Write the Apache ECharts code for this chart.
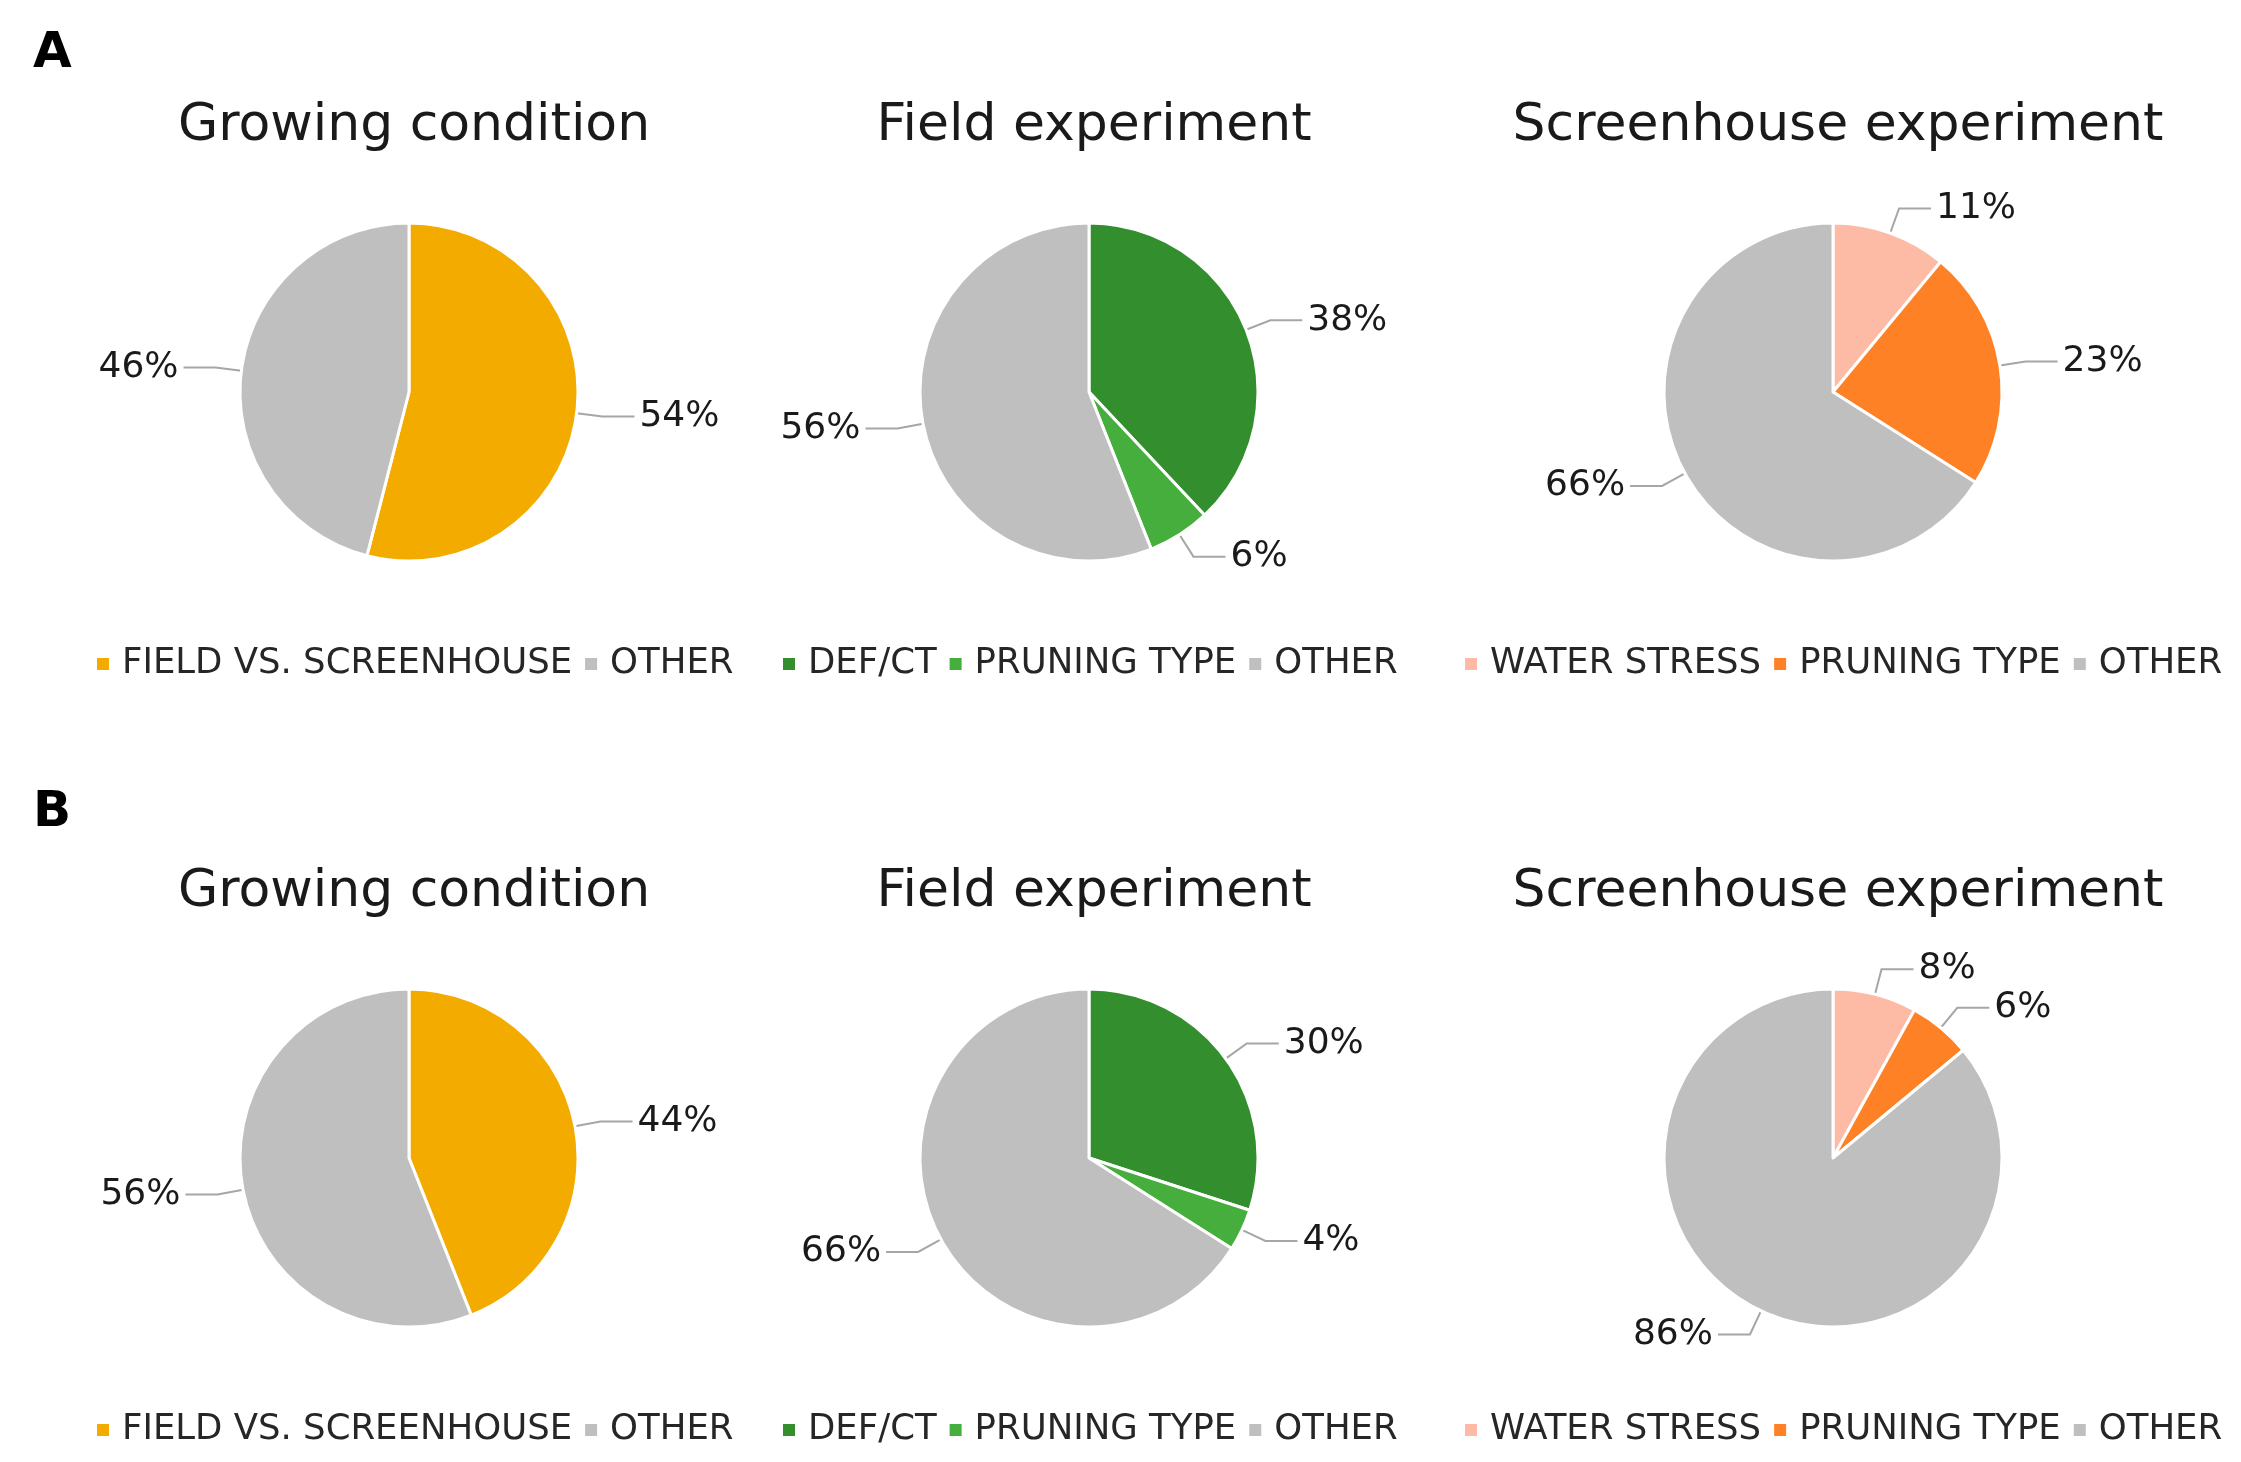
<!DOCTYPE html>
<html><head><meta charset="utf-8">
<script src="https://cdn.jsdelivr.net/npm/echarts@6/dist/echarts.min.js"></script>
<style>html,body{margin:0;padding:0;background:#fff}#c{width:2241px;height:1462px}</style>
</head><body><div id="c"></div>
<script>
// ---- data ----
const panelLetters = ['A', 'B'];
const chartTitles = ['Growing condition', 'Field experiment', 'Screenhouse experiment'];
const growingNames = ['FIELD VS. SCREENHOUSE', 'OTHER'];
const fieldNames = ['DEF/CT', 'PRUNING TYPE', 'OTHER'];
const screenNames = ['WATER STRESS', 'PRUNING TYPE', 'OTHER'];
const growingA = [54, 46];
const fieldA = [38, 6, 56];
const screenA = [11, 23, 66];
const growingB = [44, 56];
const fieldB = [30, 4, 66];
const screenB = [8, 6, 86];
const growingColors = ['#F4AB00', '#BFBFBF'];
const fieldColors = ['#338F2E', '#45AE3C', '#BFBFBF'];
const screenColors = ['#FDBBA6', '#FF8126', '#BFBFBF'];

// ---- layout ----
const FONT = 'DejaVu Sans, Verdana, sans-serif';
const centersX = [409, 1089, 1833];
const pieY = [392, 1158];
const titleTop = [95, 861];
const legendTop = [641, 1407];
const legendLeft = [90, 776, 1458];
const letterTop = [24, 783];
const R = 169;

const groups = [
  [growingNames, growingColors, [growingA, growingB]],
  [fieldNames, fieldColors, [fieldA, fieldB]],
  [screenNames, screenColors, [screenA, screenB]]
];

const titles = [], legends = [], series = [];
panelLetters.forEach((L, r) => {
  titles.push({
    text: L, left: 28, top: letterTop[r],
    textStyle: { fontFamily: FONT, fontWeight: 'bold', fontSize: 50, color: '#000' }
  });
  groups.forEach((g, c) => {
    const [names, colors, vals] = g;
    const values = vals[r];
    titles.push({
      text: chartTitles[c], left: centersX[c], top: titleTop[r], textAlign: 'center',
      textStyle: { fontFamily: FONT, fontWeight: 'normal', fontSize: 52, color: '#1a1a1a' }
    });
    legends.push({
      left: legendLeft[c], top: legendTop[r], orient: 'horizontal',
      itemWidth: 14, itemHeight: 14, itemGap: 11, icon: 'rect',
      selectedMode: false,
      textStyle: { fontFamily: FONT, fontSize: 35.5, color: '#262626', padding: [0, 0, 0, 7] },
      data: names.map((n, i) => ({ name: n, itemStyle: { color: colors[i] } }))
    });
    series.push({
      type: 'pie', center: [centersX[c], pieY[r]], radius: [0, R],
      startAngle: 90, clockwise: true, animation: false,
      avoidLabelOverlap: true,
      itemStyle: { borderColor: '#fff', borderWidth: 3 },
      label: {
        show: true, formatter: '{c}%', fontFamily: FONT, fontSize: 36, color: '#1a1a1a'
      },
      labelLine: { show: true, length: 26, length2: 32, lineStyle: { color: '#A6A6A6', width: 2 } },
      data: names.map((n, i) => ({ name: n, value: values[i], itemStyle: { color: colors[i] } }))
    });
  });
});

const chart = echarts.init(document.getElementById('c'));
chart.setOption({ backgroundColor: '#fff', title: titles, legend: legends, series: series });
</script></body></html>
